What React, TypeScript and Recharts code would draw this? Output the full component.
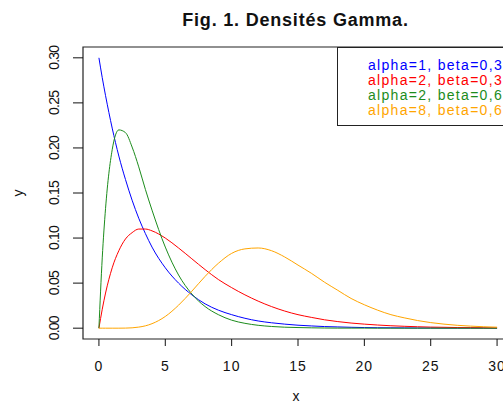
import { LineChart, Line, XAxis, YAxis, ReferenceArea } from "recharts";

// sample points along x
const X_VALUES = [
  0, 0.25, 0.5, 1, 1.5, 2, 2.5, 3, 3.5, 4,
  5, 6, 7, 8, 9, 10, 11, 12, 13, 14, 15, 16, 17, 18, 19, 20,
  21, 22, 23, 24, 25, 26, 27, 28, 29, 30,
];

// alpha=1, beta=0,3
const DENS_A1_B03 = [
  0.3, 0.278, 0.258, 0.222, 0.191, 0.165, 0.142, 0.122, 0.105, 0.09,
  0.067, 0.05, 0.037, 0.027, 0.02, 0.015, 0.011, 0.008, 0.006, 0.0045,
  0.0033, 0.0025, 0.0018, 0.0014, 0.001, 0.0007, 0.0005, 0.0004, 0.0003, 0.0002,
  0.0002, 0.0001, 0.0001, 0.0001, 0.0001, 0,
];

// alpha=2, beta=0,3
const DENS_A2_B03 = [
  0, 0.021, 0.039, 0.067, 0.086, 0.099, 0.106, 0.11, 0.11, 0.108,
  0.1, 0.089, 0.077, 0.065, 0.054, 0.045, 0.037, 0.03, 0.024, 0.019,
  0.015, 0.012, 0.0093, 0.0073, 0.0057, 0.0045, 0.0035, 0.0027, 0.0021, 0.0016,
  0.0012, 0.001, 0.0007, 0.0006, 0.0004, 0.0003,
];

// alpha=2, beta=0,6
const DENS_A2_B06 = [
  0, 0.078, 0.133, 0.198, 0.22, 0.217, 0.201, 0.179, 0.154, 0.131,
  0.09, 0.059, 0.038, 0.024, 0.015, 0.0089, 0.0054, 0.0032, 0.0019, 0.0011,
  0.0007, 0.0004, 0.0002, 0.0001, 0.0001, 0.0001, 0, 0, 0, 0,
  0, 0, 0, 0, 0, 0,
];

// alpha=8, beta=0,6
const DENS_A8_B06 = [
  0, 0, 0, 0, 0, 0.0001, 0.0004, 0.0012, 0.0026, 0.005,
  0.013, 0.0255, 0.041, 0.0575, 0.072, 0.083, 0.088, 0.089, 0.086, 0.079,
  0.07, 0.061, 0.051, 0.042, 0.033, 0.026, 0.02, 0.015, 0.0115, 0.0085,
  0.0062, 0.0045, 0.0032, 0.0023, 0.0016, 0.0011,
];

const SERIES_KEYS = ["a1b03", "a2b03", "a2b06", "a8b06"];
const SERIES_LABELS = [
  "alpha=1, beta=0,3",
  "alpha=2, beta=0,3",
  "alpha=2, beta=0,6",
  "alpha=8, beta=0,6",
];
const SERIES_COLORS = ["#0000ff", "#ff0000", "#1c8c1c", "#ffa500"];

const X_TICKS = [0, 5, 10, 15, 20, 25, 30];
const Y_TICKS = [0, 0.05, 0.1, 0.15, 0.2, 0.25, 0.3];

const TITLE = "Fig. 1. Densités Gamma.";

// R-style 4% padding around the data range
const X_DOMAIN = [-1.2, 31.2];
const Y_DOMAIN = [-0.012, 0.312];

const FONT = "'Liberation Sans', Arial, Helvetica, sans-serif";

const rows = X_VALUES.map((x, i) => ({
  x,
  a1b03: DENS_A1_B03[i],
  a2b03: DENS_A2_B03[i],
  a2b06: DENS_A2_B06[i],
  a8b06: DENS_A8_B06[i],
}));

const XTick = (props: any) => {
  const { x, payload } = props;
  return (
    <text
      x={x}
      y={371}
      textAnchor="middle"
      fontSize={14}
      fontFamily={FONT}
      letterSpacing={1}
      fill="#111"
    >
      {payload.value}
    </text>
  );
};

const YTick = (props: any) => {
  const { y, payload } = props;
  return (
    <text
      transform={`translate(58.5, ${y}) rotate(-90)`}
      textAnchor="middle"
      fontSize={14}
      fontFamily={FONT}
      letterSpacing={-0.8}
      fill="#111"
    >
      {Number(payload.value).toFixed(2)}
    </text>
  );
};

export default function App() {
  return (
    <div
      style={{
        position: "relative",
        width: 503,
        height: 405,
        overflow: "hidden",
        background: "#fff",
        fontFamily: FONT,
      }}
    >
      <style>{"body{margin:0}"}</style>
      <div
        style={{
          position: "absolute",
          left: 0,
          top: 10,
          width: 591,
          textAlign: "center",
          fontSize: 18,
          lineHeight: "20px",
          fontWeight: "bold",
          letterSpacing: 0.8,
          color: "#111",
        }}
      >
        {TITLE}
      </div>
      <LineChart
        width={513}
        height={405}
        data={rows}
        margin={{ top: 47, right: 0, bottom: 0, left: 0 }}
      >
        <XAxis
          dataKey="x"
          type="number"
          domain={X_DOMAIN}
          ticks={X_TICKS}
          interval={0}
          allowDataOverflow
          height={66}
          axisLine={false}
          tickLine={{ stroke: "#111" }}
          tickSize={7}
          tick={XTick}
        />
        <YAxis
          type="number"
          domain={Y_DOMAIN}
          ticks={Y_TICKS}
          interval={0}
          allowDataOverflow
          width={83}
          axisLine={false}
          tickLine={{ stroke: "#111" }}
          tickSize={10}
          tick={YTick}
        />
        <ReferenceArea
          x1={X_DOMAIN[0]}
          x2={X_DOMAIN[1]}
          y1={Y_DOMAIN[0]}
          y2={Y_DOMAIN[1]}
          fill="none"
          stroke="#222"
          strokeWidth={1.2}
          ifOverflow="visible"
        />
        {SERIES_KEYS.map((k, i) => (
          <Line
            key={k}
            dataKey={k}
            type="monotone"
            stroke={SERIES_COLORS[i]}
            strokeWidth={1}
            dot={false}
            activeDot={false}
            isAnimationActive={false}
          />
        ))}
      </LineChart>
      <div
        style={{
          position: "absolute",
          left: 337,
          top: 47,
          width: 200,
          height: 79,
          boxSizing: "border-box",
          border: "1px solid #222",
          background: "#fff",
          padding: "10px 0 0 30px",
        }}
      >
        {SERIES_LABELS.map((label, i) => (
          <div
            key={label}
            style={{
              color: SERIES_COLORS[i],
              fontSize: 14,
              lineHeight: "15px",
              letterSpacing: 1.3,
              whiteSpace: "nowrap",
            }}
          >
            {label}
          </div>
        ))}
      </div>
      <div
        style={{
          position: "absolute",
          left: 296,
          top: 396,
          transform: "translate(-50%, -50%)",
          fontSize: 14,
          color: "#111",
        }}
      >
        x
      </div>
      <div
        style={{
          position: "absolute",
          left: 18,
          top: 193,
          transform: "translate(-50%, -50%) rotate(-90deg)",
          fontSize: 14,
          color: "#111",
        }}
      >
        y
      </div>
    </div>
  );
}
